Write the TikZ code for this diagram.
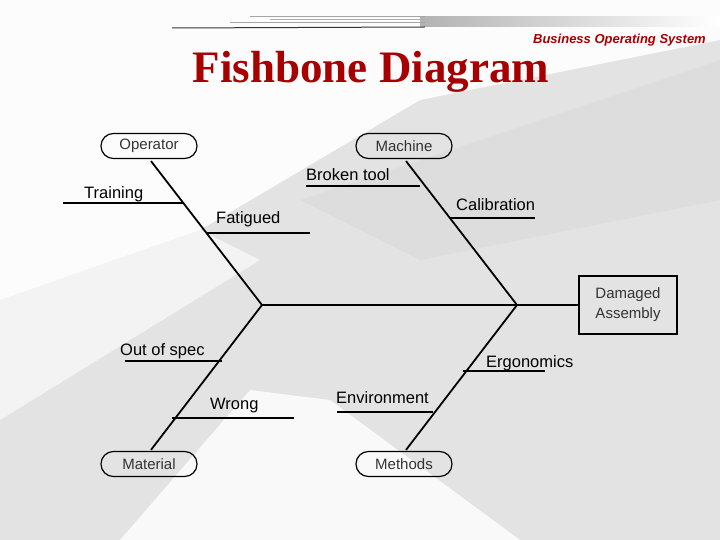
\documentclass[tikz,border=0pt]{standalone}
\usepackage{fontspec}
\setmainfont{Liberation Sans}
\newfontfamily\serifb{Liberation Serif}
\begin{document}
\begin{tikzpicture}[x=1pt,y=-1pt,
  bone/.style={line width=1.8pt},
  sub/.style={line width=1.6pt},
  cat/.style={draw,line width=1.2pt,rounded corners=12.4pt,minimum width=96pt,minimum height=25pt,font=\fontsize{15}{17}\selectfont,text=black!80,inner sep=0pt},
  lab/.style={font=\fontsize{16.5}{18}\selectfont,anchor=base west,inner sep=0pt}]
\useasboundingbox (0,0) rectangle (720,540);
\fill[gray!22] (0,0) rectangle (720,540);
\fill[white,opacity=0.9] (0,0) -- (720,0) -- (720,40) -- (420,100) -- (200,230) -- (0,300) -- cycle;
\fill[white,opacity=0.6] (0,300) -- (200,230) -- (260,260) -- (0,420) -- cycle;
\fill[white,opacity=0.8] (120,540) -- (250,390) -- (330,400) -- (520,540) -- cycle;
\fill[gray!30,opacity=0.5] (720,60) -- (720,200) -- (420,260) -- (300,200) -- cycle;
% top decoration
\shade[left color=gray!60,right color=white] (420,17) rectangle (720,27);
\draw[gray!70,line width=1pt] (250,17) -- (425,17);
\draw[gray!60,line width=1pt] (270,20) -- (425,20);
\draw[gray!70,line width=1pt] (230,23) -- (425,23);
\draw[black!80,line width=1pt] (172,28) -- (425,27);
\node[font=\fontsize{13}{15}\selectfont\itshape\bfseries,text=red!65!black,anchor=base east,inner sep=0pt] (bos) at (706,44) {Business Operating System};
\node[font=\serifb\fontsize{45}{48}\selectfont\bfseries,text=red!65!black,anchor=base,inner sep=0pt] (title) at (371,83) {Fishbone Diagram};
% boxes
\node[cat] (op) at (149,146) {Operator};
\node[cat] (ma) at (404,146) {Machine};
\node[cat] (mat) at (149,464) {Material};
\node[cat] (me) at (404,464) {Methods};
\node[draw,line width=1.2pt,minimum width=98pt,minimum height=58pt,align=center,inner sep=0pt,text=black!80,font=\fontsize{15}{20}\selectfont] (da) at (628,305) {Damaged\\Assembly};
\coordinate (j1) at (262,305);
\coordinate (j2) at (517,305);
\draw[bone] (j1) -- (da.west);
\draw[bone] (op.south) ++(2,2) -- (j1);
\draw[bone] (ma.south) ++(2,2) -- (j2);
\draw[bone] (mat.north) ++(2,-1) -- (j1);
\draw[bone] (me.north) ++(2,-1) -- (j2);
% sub-causes
\node[lab] (tr) at (84,199) {Training};
\coordinate (tra) at (63,203); \coordinate (trb) at (183,203);
\draw[sub] (tra) -- (trb);
\node[lab] (fa) at (216,223) {Fatigued};
\coordinate (faa) at (206,233); \coordinate (fab) at (310,233);
\draw[sub] (faa) -- (fab);
\node[lab] (bt) at (306,181) {Broken tool};
\coordinate (bta) at (306,186); \coordinate (btb) at (420,186);
\draw[sub] (bta) -- (btb);
\node[lab] (ca) at (456,211) {Calibration};
\coordinate (caa) at (450,218); \coordinate (cab) at (535,218);
\draw[sub] (caa) -- (cab);
\node[lab] (os) at (120,355) {Out of spec};
\coordinate (osa) at (125,361); \coordinate (osb) at (222,361);
\draw[sub] (osa) -- (osb);
\node[lab] (wr) at (210,409) {Wrong};
\coordinate (wra) at (172,418); \coordinate (wrb) at (294,418);
\draw[sub] (wra) -- (wrb);
\node[lab] (en) at (336,403) {Environment};
\coordinate (ena) at (337,412); \coordinate (enb) at (433,412);
\draw[sub] (ena) -- (enb);
\node[lab] (er) at (486,367) {Ergonomics};
\coordinate (era) at (463,371); \coordinate (erb) at (545,371);
\draw[sub] (era) -- (erb);
\end{tikzpicture}
\end{document}
